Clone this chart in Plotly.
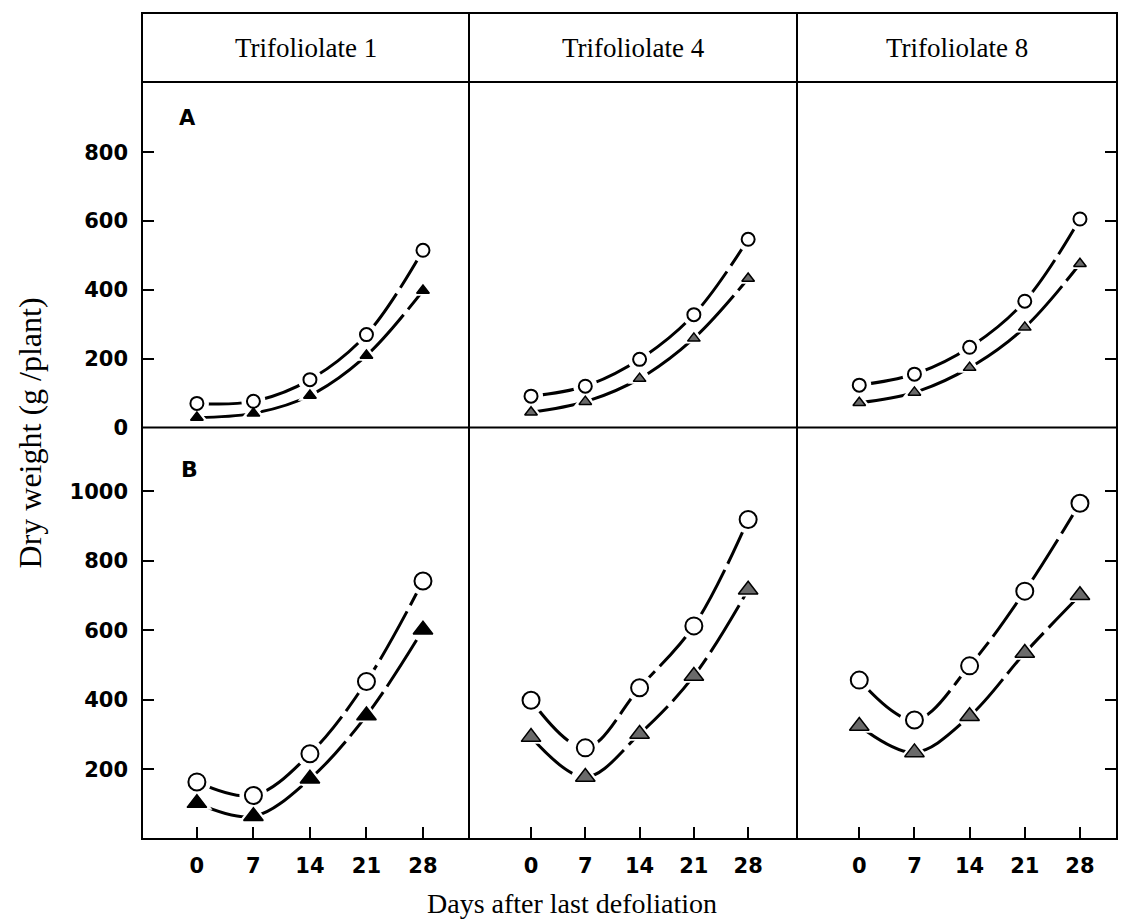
import plotly.graph_objects as go

# ---------------- data ----------------
days = [0, 7, 14, 21, 28]
column_titles = ["Trifoliolate 1", "Trifoliolate 4", "Trifoliolate 8"]
row_letters = ["A", "B"]

# Panel A (top row)
a1_circle = [70, 76, 139, 270, 515]
a1_triangle = [29, 41, 93, 209, 398]
a4_circle = [91, 120, 198, 328, 547]
a4_triangle = [44, 75, 142, 259, 433]
a8_circle = [123, 155, 233, 367, 606]
a8_triangle = [72, 102, 174, 291, 476]

# Panel B (bottom row)
b1_circle = [164, 125, 245, 453, 742]
b1_triangle = [103, 65, 173, 355, 602]
b4_circle = [399, 262, 435, 613, 919]
b4_triangle = [293, 178, 302, 469, 717]
b8_circle = [457, 342, 498, 713, 966]
b8_triangle = [325, 249, 353, 535, 701]

a_ticks = [0, 200, 400, 600, 800]
a_ticktext = ["0", "200", "400", "600", "800"]
b_ticks = [200, 400, 600, 800, 1000]
b_ticktext = ["200", "400", "600", "800", "1000"]
x_ticktext = ["0", "7", "14", "21", "28"]

# ---------------- layout geometry (target picture pixels) ----------------
REF_W, REF_H = 1133, 922
FIG_W, FIG_H = 1133, 935          # viewport is slightly taller than the photo
col_px = [(142, 469), (469, 797), (797, 1117)]
row_px = [(82, 427), (427, 838)]   # A, B
header_px = (13, 82)
x_ranges = [[-6.8, 33.7], [-8.0, 34.3], [-7.9, 32.7]]
y_ranges = [[0, 1004], [0, 1184]]

def px_x(p):
    return p / REF_W

def px_y(p):
    return 1 - p / REF_H

panels = [
    [(a1_circle, a1_triangle), (a4_circle, a4_triangle), (a8_circle, a8_triangle)],
    [(b1_circle, b1_triangle), (b4_circle, b4_triangle), (b8_circle, b8_triangle)],
]

circle_size = [13, 17]
tri_size = [11, 17]
tri_fill = ["black", "#6a6a6a", "#6a6a6a"]

fig = go.Figure()
tick_font = dict(family="DejaVu Sans", size=21, color="black", weight="bold")
serif = "Liberation Serif"
FRAME_W = 2

for r in range(2):
    for c in range(3):
        idx = r * 3 + c + 1
        xa = "x" if idx == 1 else f"x{idx}"
        ya = "y" if idx == 1 else f"y{idx}"
        circ, tri = panels[r][c]
        line_style = dict(color="black", width=3, shape="spline", smoothing=1.0, dash="55px,7px")
        for series in (circ, tri):
            fig.add_trace(go.Scatter(x=days, y=series, mode="lines", line=line_style,
                                     xaxis=xa, yaxis=ya, hoverinfo="skip"))
        # white halos so the lines stop short of the markers
        fig.add_trace(go.Scatter(x=days, y=circ, mode="markers",
                                 marker=dict(symbol="circle", size=circle_size[r] + 11, color="white",
                                             line=dict(width=0)),
                                 xaxis=xa, yaxis=ya, hoverinfo="skip"))
        fig.add_trace(go.Scatter(x=days, y=tri, mode="markers",
                                 marker=dict(symbol="triangle-up", size=tri_size[r] + 10, color="white",
                                             line=dict(width=0)),
                                 xaxis=xa, yaxis=ya, hoverinfo="skip"))
        fig.add_trace(go.Scatter(x=days, y=circ, mode="markers",
                                 marker=dict(symbol="circle", size=circle_size[r], color="white",
                                             line=dict(color="black", width=2)),
                                 xaxis=xa, yaxis=ya))
        fig.add_trace(go.Scatter(x=days, y=tri, mode="markers",
                                 marker=dict(symbol="triangle-up", size=tri_size[r], color=tri_fill[c],
                                             line=dict(color="black", width=1.5)),
                                 xaxis=xa, yaxis=ya))

        x0, x1 = col_px[c]
        y0, y1 = row_px[r]
        xkey = "xaxis" if idx == 1 else f"xaxis{idx}"
        ykey = "yaxis" if idx == 1 else f"yaxis{idx}"
        xaxis = dict(domain=[px_x(x0), px_x(x1)], range=x_ranges[c], showline=False,
                     showgrid=False, zeroline=False, anchor=ya, fixedrange=True)
        if r == 1:
            xaxis.update(ticks="inside", ticklen=12, tickwidth=2, tickcolor="black",
                         tickmode="array", tickvals=days, ticktext=x_ticktext,
                         tickfont=tick_font, ticklabelstandoff=12)
        else:
            xaxis.update(ticks="", showticklabels=False)
        yaxis = dict(domain=[px_y(y1), px_y(y0)], range=y_ranges[r], showline=False,
                     showgrid=False, zeroline=False, anchor=xa, fixedrange=True)
        tv = a_ticks if r == 0 else b_ticks
        tt = a_ticktext if r == 0 else b_ticktext
        if c == 0:
            yaxis.update(ticks="inside", ticklen=12, tickwidth=2, tickcolor="black",
                         tickmode="array", tickvals=tv, ticktext=tt, tickfont=tick_font,
                         ticklabelstandoff=13)
        elif c == 2:
            yaxis.update(side="right", ticks="inside", ticklen=12, tickwidth=2,
                         tickcolor="black", tickmode="array", tickvals=tv,
                         showticklabels=False)
        else:
            yaxis.update(ticks="", showticklabels=False)
        fig.update_layout(**{xkey: xaxis, ykey: yaxis})

# frame: outer box, header line, A/B divider, column dividers
frame_line = dict(color="black", width=FRAME_W)
shapes = [dict(type="rect", xref="paper", yref="paper",
               x0=px_x(col_px[0][0]), x1=px_x(col_px[2][1]),
               y0=px_y(row_px[1][1]), y1=px_y(header_px[0]), line=frame_line)]
for yy in (header_px[1], row_px[0][1]):
    shapes.append(dict(type="line", xref="paper", yref="paper",
                       x0=px_x(col_px[0][0]), x1=px_x(col_px[2][1]),
                       y0=px_y(yy), y1=px_y(yy), line=frame_line))
for c in (1, 2):
    shapes.append(dict(type="line", xref="paper", yref="paper",
                       x0=px_x(col_px[c][0]), x1=px_x(col_px[c][0]),
                       y0=px_y(row_px[1][1]), y1=px_y(header_px[0]), line=frame_line))

annotations = []
for c, t in enumerate(column_titles):
    annotations.append(dict(text=t, xref="paper", yref="paper",
                            x=px_x((col_px[c][0] + col_px[c][1]) / 2), y=px_y(48),
                            xanchor="center", yanchor="middle", showarrow=False,
                            font=dict(family=serif, size=27, color="black")))
annotations.append(dict(text=row_letters[0], xref="paper", yref="paper", x=px_x(187), y=px_y(118),
                        xanchor="center", yanchor="middle", showarrow=False,
                        font=dict(family="DejaVu Sans", size=21, color="black", weight="bold")))
annotations.append(dict(text=row_letters[1], xref="paper", yref="paper", x=px_x(189), y=px_y(469),
                        xanchor="center", yanchor="middle", showarrow=False,
                        font=dict(family="DejaVu Sans", size=22, color="black", weight="bold")))
annotations.append(dict(text="Dry weight (g /plant)", xref="paper", yref="paper",
                        x=px_x(30), y=px_y(433), textangle=-90,
                        xanchor="center", yanchor="middle", showarrow=False,
                        font=dict(family=serif, size=32, color="black")))
annotations.append(dict(text="Days after last defoliation", xref="paper", yref="paper",
                        x=px_x(572), y=px_y(903),
                        xanchor="center", yanchor="middle", showarrow=False,
                        font=dict(family=serif, size=28, color="black")))

fig.update_layout(width=FIG_W, height=FIG_H, margin=dict(l=0, r=0, t=0, b=0),
                  paper_bgcolor="white", plot_bgcolor="white", showlegend=False,
                  shapes=shapes, annotations=annotations)

# pin the figure to the window origin (no body margin, no page overflow)
fig.write_html(
    "out.html",
    config={"displayModeBar": False, "staticPlot": True},
    post_script=(
        "document.documentElement.style.margin='0';document.body.style.margin='0';"
        "document.documentElement.style.overflow='hidden';document.body.style.overflow='hidden';"
        "var gd=document.getElementById('{plot_id}');"
        "gd.style.position='fixed';gd.style.left='0px';gd.style.top='0px';"
    ),
)
